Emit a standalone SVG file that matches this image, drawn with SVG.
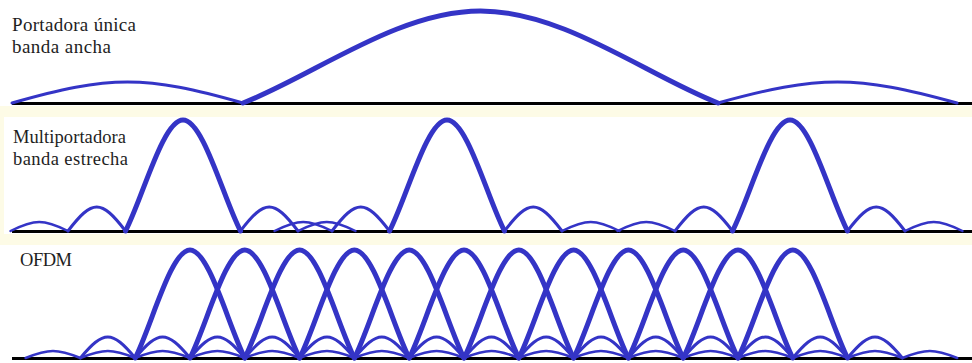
<svg xmlns="http://www.w3.org/2000/svg" xmlns:xlink="http://www.w3.org/1999/xlink" width="972" height="363" viewBox="0 0 972 363">
<style>
.band{fill:#fdfbe6}
.axis{stroke:#000;stroke-width:3;fill:none}
.lobe{fill:none;stroke:#3434c6;stroke-linecap:round;stroke-linejoin:round}
.main{stroke-width:5}
.side{stroke-width:3}
.side2{stroke-width:2.5}
.lbl{font-family:"Liberation Serif","Times New Roman",serif;font-size:18.5px;fill:#1e1e1e}
.big{font-size:19px}
</style>
<defs>
  <path id="om" d="M-54.8,0 C-38.36,-32.4 -19.18,-108 0,-108 C19.18,-108 38.36,-32.4 54.8,0"/>
  <path id="os1" d="M0,0 C23.24,-28 31.56,-28 54.8,0"/>
  <path id="os2" d="M0,0 C23.24,-9.3 31.56,-9.3 54.8,0"/>
  <path id="mm" d="M-57.5,0 C-40.25,-33.3 -20.13,-111 0,-111 C20.13,-111 40.25,-33.3 57.5,0"/>
  <path id="ms1" d="M0,0 C24.38,-32 33.12,-32 57.5,0"/>
  <path id="ms2" d="M0,0 C24.38,-12 33.12,-12 57.5,0"/>
</defs>
<rect x="0" y="0" width="972" height="363" fill="#fff"/>
<rect class="band" x="0" y="106" width="972" height="11"/>
<rect class="band" x="0" y="234" width="972" height="11"/>
<rect class="band" x="0" y="117" width="4" height="117"/>

<g id="single-carrier">
  <text class="lbl big" x="12" y="30.5" textLength="124">Portadora única</text>
  <text class="lbl big" x="12" y="53" textLength="99">banda ancha</text>
  <line class="axis" x1="12" y1="103.5" x2="972" y2="103.5"/>
  <path class="lobe side" d="M12,103 C109.9,75 145.1,75 243,103"/>
  <path class="lobe main" d="M243,103 C314.25,75.4 397.4,11 480.5,11 C563.6,11 646.75,75.4 718,103"/>
  <path class="lobe side" d="M718,103 C819.3,75 855.7,75 957,103"/>
</g>

<g id="multicarrier">
  <text class="lbl" x="13" y="143" textLength="113">Multiportadora</text>
  <text class="lbl" x="13" y="165" textLength="115">banda estrecha</text>
  <line class="axis" x1="12" y1="231.5" x2="972" y2="231.5"/>
  <g class="lobe side2">
    <use href="#ms2" x="10.5" y="231"/>
    <use href="#ms2" x="298" y="231"/>
    <use href="#ms2" x="274.5" y="231"/>
    <use href="#ms2" x="562" y="231"/>
    <use href="#ms2" x="617.5" y="231"/>
    <use href="#ms2" x="905" y="231"/>
  </g>
  <g class="lobe side">
    <use href="#ms1" x="68" y="231"/>
    <use href="#ms1" x="240.5" y="231"/>
    <use href="#ms1" x="332" y="231"/>
    <use href="#ms1" x="504.5" y="231"/>
    <use href="#ms1" x="675" y="231"/>
    <use href="#ms1" x="847.5" y="231"/>
  </g>
  <g class="lobe main">
    <use href="#mm" x="183" y="231"/>
    <use href="#mm" x="447" y="231"/>
    <use href="#mm" x="790" y="231"/>
  </g>
</g>

<g id="ofdm">
  <text class="lbl" x="20" y="266" textLength="52">OFDM</text>
  <line class="axis" x1="12" y1="358.5" x2="972" y2="358.5"/>
  <g class="lobe side2">
    <use href="#os2" x="25.6" y="358"/>
    <use href="#os2" x="80.4" y="358"/>
    <use href="#os2" x="135.2" y="358"/>
    <use href="#os2" x="190" y="358"/>
    <use href="#os2" x="244.8" y="358"/>
    <use href="#os2" x="299.6" y="358"/>
    <use href="#os2" x="354.4" y="358"/>
    <use href="#os2" x="409.2" y="358"/>
    <use href="#os2" x="464" y="358"/>
    <use href="#os2" x="518.8" y="358"/>
    <use href="#os2" x="573.6" y="358"/>
    <use href="#os2" x="628.4" y="358"/>
    <use href="#os2" x="683.2" y="358"/>
    <use href="#os2" x="738" y="358"/>
    <use href="#os2" x="792.8" y="358"/>
    <use href="#os2" x="847.6" y="358"/>
    <use href="#os2" x="902.4" y="358"/>
  </g>
  <g class="lobe side">
    <use href="#os1" x="80.4" y="358"/>
    <use href="#os1" x="135.2" y="358"/>
    <use href="#os1" x="190" y="358"/>
    <use href="#os1" x="244.8" y="358"/>
    <use href="#os1" x="299.6" y="358"/>
    <use href="#os1" x="354.4" y="358"/>
    <use href="#os1" x="409.2" y="358"/>
    <use href="#os1" x="464" y="358"/>
    <use href="#os1" x="518.8" y="358"/>
    <use href="#os1" x="573.6" y="358"/>
    <use href="#os1" x="628.4" y="358"/>
    <use href="#os1" x="683.2" y="358"/>
    <use href="#os1" x="738" y="358"/>
    <use href="#os1" x="792.8" y="358"/>
    <use href="#os1" x="847.6" y="358"/>
  </g>
  <g class="lobe main">
    <use href="#om" x="190" y="358"/>
    <use href="#om" x="244.8" y="358"/>
    <use href="#om" x="299.6" y="358"/>
    <use href="#om" x="354.4" y="358"/>
    <use href="#om" x="409.2" y="358"/>
    <use href="#om" x="464" y="358"/>
    <use href="#om" x="518.8" y="358"/>
    <use href="#om" x="573.6" y="358"/>
    <use href="#om" x="628.4" y="358"/>
    <use href="#om" x="683.2" y="358"/>
    <use href="#om" x="738" y="358"/>
    <use href="#om" x="792.8" y="358"/>
  </g>
</g>
</svg>
